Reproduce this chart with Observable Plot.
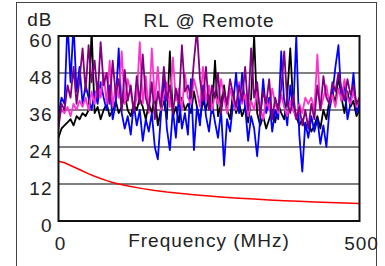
<!DOCTYPE html>
<html>
<head>
<meta charset="utf-8">
<script src="https://cdn.jsdelivr.net/npm/d3@7"></script>
<script src="https://cdn.jsdelivr.net/npm/@observablehq/plot@0.6"></script>
<style>
  html, body { margin: 0; padding: 0; background: #fff; overflow: hidden; }
  #wrap { position: relative; width: 385px; height: 266px; }
  #border { position: absolute; left: 16px; top: 2px; width: 361px; height: 300px; border: 1.5px solid #444; box-sizing: border-box; }
  #wrap svg { position: absolute; left: 0; top: 0; letter-spacing: 1px; }
</style>
</head>
<body>
<div id="wrap"><div id="border"></div></div>
<script>
// frequency grid (MHz)
const freq = d3.range(0, 501, 5);
const yTicks = [0, 12, 24, 36, 48, 60];
const xTicks = [0, 500];

const blackVals = [
  27,30,31,32,33,31,34,33,35,34,
  36,62,35,37,33,36,38,34,36,39,
  35,37,41,36,34,38,36,40,37,33,
  38,35,41,31,36,39,33,55,34,37,
  32,40,36,38,35,42,37,33,39,36,
  41,35,52,34,38,44,36,33,42,35,
  38,34,37,32,40,60,35,31,34,30,
  33,36,32,38,35,33,41,56,37,34,
  31,33,30,32,29,31,34,30,36,33,
  39,42,38,47,40,35,42,37,39,34,
  36];
const blueVals = [
  34,40,38,65,45,64,42,50,38,44,
  40,36,42,38,45,40,36,44,33,38,
  56,35,30,34,28,38,31,36,26,33,
  29,35,24,20,34,46,30,23,36,27,
  41,30,35,28,46,23,37,31,44,34,
  29,38,32,27,36,18,33,29,38,48,
  35,48,37,26,34,30,21,33,46,35,
  40,29,36,33,55,38,31,44,36,60,
  28,16,32,27,34,29,33,25,31,24,
  36,41,50,57,39,45,33,38,48,35,
  38];
const purpleVals = [
  30,38,36,44,40,50,38,46,56,42,
  57,45,52,40,58,44,48,38,52,41,
  46,36,49,39,44,35,47,38,54,40,
  36,45,33,42,37,50,39,44,35,43,
  38,57,42,44,40,52,62,46,39,50,
  36,44,40,48,35,42,38,46,41,37,
  44,39,50,36,56,40,45,34,42,38,
  46,33,40,36,43,55,38,35,41,33,
  37,31,36,30,38,33,44,36,47,40,
  38,45,42,48,43,39,46,41,44,38,
  40];
const pinkVals = [
  33,36,35,37,34,38,36,39,37,40,
  36,42,38,45,40,48,38,52,37,44,
  40,55,38,46,42,36,40,58,38,47,
  35,56,39,50,36,41,45,37,53,39,
  43,36,48,40,38,46,42,37,50,39,
  44,36,41,38,46,40,35,43,39,36,
  45,38,41,34,39,36,42,37,33,40,
  36,43,38,35,41,37,34,39,36,33,
  38,35,40,38,40,36,54,36,40,44,
  38,41,37,43,39,46,40,38,42,37,
  40];
// limit line
const limitFreq = [0,10,20,30,40,50,60,70,80,90,100,120,140,160,180,200,225,250,275,300,325,350,375,400,425,450,475,500];
const limitVals = [19.4,18.9,18.0,17.1,16.2,15.3,14.5,13.8,13.1,12.5,12.0,11.2,10.5,9.9,9.4,9.0,8.5,8.1,7.7,7.4,7.1,6.8,6.6,6.4,6.2,6.0,5.8,5.7];

const toRows = (vals) => freq.map((f, i) => ({f, v: vals[i]}));
const limitRows = limitFreq.map((f, i) => ({f, v: limitVals[i]}));

const font = "'Liberation Sans', Arial, sans-serif";
const lineOpts = (color) => ({x: "f", y: "v", stroke: color, strokeWidth: 1.8, clip: true});

const chart = Plot.plot({
  width: 385,
  height: 266,
  marginLeft: 58,
  marginRight: 26,
  marginTop: 35.5,
  marginBottom: 45.5,
  style: {fontFamily: font, fontSize: "19px", color: "#222", background: "transparent"},
  x: {domain: [0, 500], label: null},
  y: {domain: [0, 60], label: null},
  marks: [
    Plot.gridY([12, 24, 36, 48], {stroke: "#555", strokeOpacity: 1, strokeWidth: 1.5}),
    Plot.line(toRows(blackVals), lineOpts("#000000")),
    Plot.line(toRows(blueVals), lineOpts("#0000ff")),
    Plot.line(toRows(pinkVals), lineOpts("#ff33cc")),
    Plot.line(toRows(purpleVals), lineOpts("#800080")),
    Plot.line(limitRows, {x: "f", y: "v", stroke: "#ff0000", strokeWidth: 1.5}),
    Plot.frame({stroke: "#111", strokeWidth: 2}),
    Plot.axisY(yTicks, {tickSize: 0, tickPadding: 6, dy: 5, fontSize: 19, label: null}),
    Plot.axisX(xTicks, {tickSize: 0, tickPadding: 15, dx: 2, fontSize: 19, label: null}),
    Plot.text(["RL @ Remote"], {frameAnchor: "top", dy: -23, fontSize: 19, fill: "#222"}),
    Plot.text(["dB"], {frameAnchor: "top-left", textAnchor: "end", dx: -6, dy: -24, fontSize: 19, fill: "#222"}),
    Plot.text(["Frequency (MHz)"], {frameAnchor: "bottom", dy: 26, fontSize: 19, fill: "#222"})
  ]
});
document.getElementById("wrap").appendChild(chart);
</script>
</body>
</html>
